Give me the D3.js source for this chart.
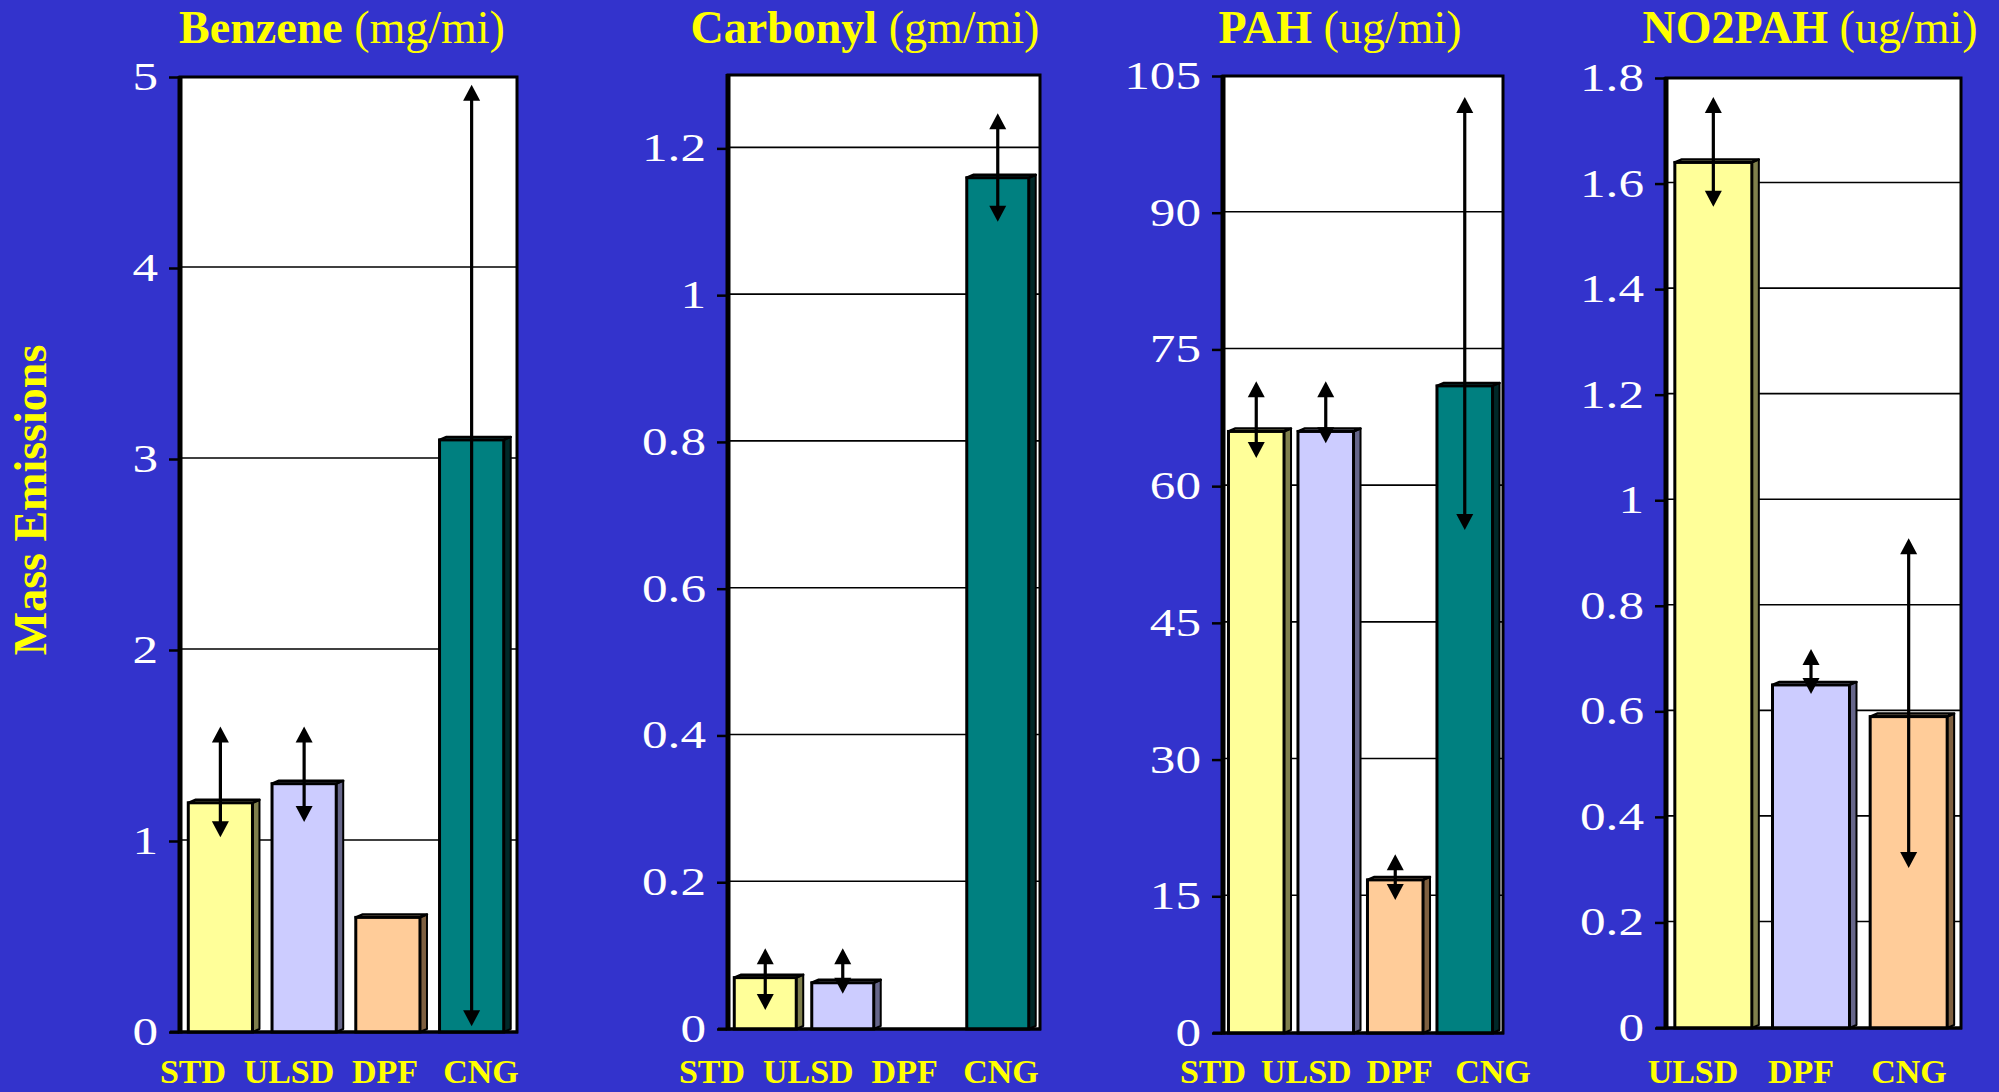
<!DOCTYPE html>
<html>
<head>
<meta charset="utf-8">
<script src="https://cdn.jsdelivr.net/npm/d3@7"></script>
<style>
  html, body { margin: 0; padding: 0; background: #3333CC; }
  svg { display: block; }
</style>
</head>
<body>
<svg id="chart" width="1999" height="1092"></svg>
<script>
// ---------------- DATA ----------------
const categories4 = ["STD", "ULSD", "DPF", "CNG"];
const categories3 = ["ULSD", "DPF", "CNG"];

const benzeneValues = [1.2, 1.3, 0.6, 3.1];
const benzeneErrHigh = [1.6, 1.6, null, 4.96];
const benzeneErrLow = [1.02, 1.1, null, 0.03];
const benzeneTicks = [0, 1, 2, 3, 4, 5];

const carbonylValues = [0.07, 0.063, 0, 1.16];
const carbonylErrHigh = [0.11, 0.11, null, 1.248];
const carbonylErrLow = [0.026, 0.048, null, 1.10];
const carbonylTicks = [0, 0.2, 0.4, 0.6, 0.8, 1, 1.2];

const pahValues = [66, 66, 16.8, 71];
const pahErrHigh = [71.5, 71.5, 19.6, 102.7];
const pahErrLow = [63.1, 64.7, 14.6, 55.2];
const pahTicks = [0, 15, 30, 45, 60, 75, 90, 105];

const no2pahValues = [1.64, 0.65, 0.59];
const no2pahErrHigh = [1.764, 0.718, 0.928];
const no2pahErrLow = [1.556, 0.633, 0.303];
const no2pahTicks = [0, 0.2, 0.4, 0.6, 0.8, 1, 1.2, 1.4, 1.6, 1.8];

const titlesBold = ["Benzene", "Carbonyl", "PAH", "NO2PAH"];
const titlesUnit = ["(mg/mi)", "(gm/mi)", "(ug/mi)", "(ug/mi)"];
const yAxisTitle = "Mass Emissions";

// ---------------- STYLE / LAYOUT ----------------
const frontColors = ["#FFFF99", "#CCCCFF", "#FFCC99", "#008080"];
const sideColors  = ["#7F7F4C", "#66668A", "#7F6040", "#002828"];
const topColors   = ["#FFFFB8", "#DDDDFF", "#FFDDB8", "#1A9090"];
const yellow = "#FFFF00";

const panels = [
  { cats: categories4, values: benzeneValues, hi: benzeneErrHigh, lo: benzeneErrLow, ticks: benzeneTicks,
    domain: [0, 5], left: 180, right: 517, top: 77, bottom: 1032, pad: 0.15, titleX: 342, labelRange: [193, 481] },
  { cats: categories4, values: carbonylValues, hi: carbonylErrHigh, lo: carbonylErrLow, ticks: carbonylTicks,
    domain: [0, 1.3], left: 728, right: 1040, top: 75, bottom: 1029, pad: 0.11, titleX: 865, labelRange: [712, 1001] },
  { cats: categories4, values: pahValues, hi: pahErrHigh, lo: pahErrLow, ticks: pahTicks,
    domain: [0, 105], left: 1223, right: 1503, top: 76, bottom: 1033, pad: 0.10, titleX: 1340, labelRange: [1213, 1493] },
  { cats: categories3, values: no2pahValues, hi: no2pahErrHigh, lo: no2pahErrLow, ticks: no2pahTicks,
    domain: [0, 1.8], left: 1666, right: 1961, top: 78, bottom: 1028, pad: 0.14, titleX: 1810, labelRange: [1693, 1909] }
];

const svg = d3.select("#chart");
svg.append("rect").attr("width", 1999).attr("height", 1092).attr("fill", "#3333CC");

const DX = 7, DY = 3;
const fmt = v => d3.format("~g")(v);

panels.forEach((p, pi) => {
  const g = svg.append("g");
  const y = d3.scaleLinear().domain(p.domain).range([p.bottom, p.top]);
  const x = d3.scaleBand().domain(p.cats).range([p.left + 2, p.right])
    .paddingInner(p.pad).paddingOuter(p.pad / 2);
  const xl = d3.scalePoint().domain(p.cats).range(p.labelRange);

  // plot area
  g.append("rect").attr("x", p.left).attr("y", p.top)
    .attr("width", p.right - p.left).attr("height", p.bottom - p.top)
    .attr("fill", "#FFFFFF").attr("stroke", "#000").attr("stroke-width", 3);

  // gridlines
  g.append("g").selectAll("line")
    .data(p.ticks.filter(t => t > p.domain[0] && y(t) > p.top + 4))
    .join("line")
    .attr("x1", p.left).attr("x2", p.right)
    .attr("y1", d => y(d) - 1).attr("y2", d => y(d) - 1)
    .attr("stroke", "#000").attr("stroke-width", 1.6);

  // y axis ticks using d3 axis
  const ax = d3.axisLeft(y).tickValues(p.ticks).tickSize(10).tickFormat("");
  const axG = g.append("g").attr("transform", `translate(${p.left - 1},0)`).call(ax);
  axG.select(".domain").remove();
  axG.selectAll(".tick line").attr("stroke", "#000").attr("stroke-width", 2.5);

  // tick labels (horizontally widened serif digits)
  g.append("g").selectAll("g.lab").data(p.ticks).join("g")
    .attr("class", "lab")
    .attr("transform", d => `translate(${p.left - 22},${y(d) + 13}) scale(1.28,1)`)
    .append("text")
    .attr("text-anchor", "end")
    .attr("font-family", "Liberation Serif, Times New Roman, serif")
    .attr("font-size", 40)
    .attr("fill", "#FFFFFF")
    .text(d => fmt(d));

  // bars
  const bars = g.append("g");
  p.values.forEach((v, i) => {
    if (!v) return;
    const bw = x.bandwidth() - DX;
    const x0 = x(p.cats[i]);
    const yt = y(v), yb = y(0);
    bars.append("polygon")
      .attr("points", [[x0 + bw, yt], [x0 + bw + DX, yt - DY], [x0 + bw + DX, yb - DY], [x0 + bw, yb]].join(" "))
      .attr("fill", sideColors[i]).attr("stroke", "#000").attr("stroke-width", 2).attr("stroke-linejoin", "round");
    bars.append("polygon")
      .attr("points", [[x0, yt], [x0 + DX, yt - DY], [x0 + bw + DX, yt - DY], [x0 + bw, yt]].join(" "))
      .attr("fill", topColors[i]).attr("stroke", "#000").attr("stroke-width", 2.5).attr("stroke-linejoin", "round");
    bars.append("rect")
      .attr("x", x0).attr("y", yt).attr("width", bw).attr("height", yb - yt)
      .attr("fill", frontColors[i]).attr("stroke", "#000").attr("stroke-width", 3);
  });

  // left axis (thick) and bottom axis
  g.append("line").attr("x1", p.left).attr("x2", p.left)
    .attr("y1", p.top - 1).attr("y2", p.bottom + 1.5)
    .attr("stroke", "#000").attr("stroke-width", 5);
  g.append("line").attr("x1", p.left - 10).attr("x2", p.right + 1)
    .attr("y1", p.bottom).attr("y2", p.bottom)
    .attr("stroke", "#000").attr("stroke-width", 3);

  // error arrows
  const arr = g.append("g");
  p.values.forEach((v, i) => {
    if (p.hi[i] == null) return;
    const bw = x.bandwidth() - DX;
    const cx = x(p.cats[i]) + bw / 2;
    const yh = y(p.hi[i]), ylo = y(p.lo[i]);
    const hl = 16, hw = 8.5;
    arr.append("line").attr("x1", cx).attr("x2", cx)
      .attr("y1", yh + hl - 2).attr("y2", ylo - hl + 2)
      .attr("stroke", "#000").attr("stroke-width", 3.2);
    arr.append("polygon")
      .attr("points", [[cx, yh], [cx - hw, yh + hl], [cx + hw, yh + hl]].join(" "))
      .attr("fill", "#000");
    arr.append("polygon")
      .attr("points", [[cx, ylo], [cx - hw, ylo - hl], [cx + hw, ylo - hl]].join(" "))
      .attr("fill", "#000");
  });

  // category labels
  g.append("g").selectAll("text").data(p.cats).join("text")
    .attr("x", d => xl(d)).attr("y", 1083)
    .attr("text-anchor", "middle")
    .attr("font-family", "Liberation Serif, Times New Roman, serif")
    .attr("font-weight", "bold").attr("font-size", 34)
    .attr("fill", yellow)
    .text(d => d);

  // title
  const t = g.append("text").attr("x", p.titleX).attr("y", 43)
    .attr("text-anchor", "middle")
    .attr("font-family", "Liberation Serif, Times New Roman, serif")
    .attr("font-size", 46).attr("fill", yellow);
  t.append("tspan").attr("font-weight", "bold").text(titlesBold[pi]);
  t.append("tspan").text(" " + titlesUnit[pi]);
});

// y axis title
svg.append("text")
  .attr("transform", "translate(46,500) rotate(-90)")
  .attr("text-anchor", "middle")
  .attr("font-family", "Liberation Serif, Times New Roman, serif")
  .attr("font-weight", "bold").attr("font-size", 46)
  .attr("fill", yellow)
  .text(yAxisTitle);
</script>
</body>
</html>
